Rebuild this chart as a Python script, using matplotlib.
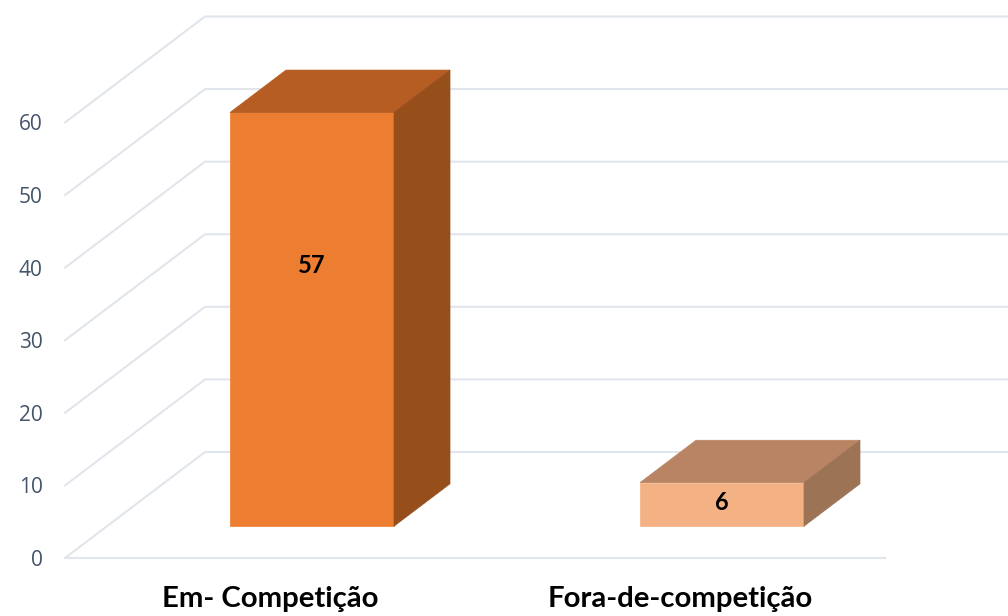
import matplotlib
matplotlib.use('Agg')
import matplotlib.pyplot as plt
from matplotlib.patches import Polygon

categories = ['Em- Competição', 'Fora-de-competição']
values = [57, 6]
y_ticks = [0, 10, 20, 30, 40, 50, 60]

front_colors = ['#ED7D31', '#F4B183']
top_colors = ['#B55D22', '#B98463']
side_colors = ['#964E1B', '#9C7355']
grid_color = '#E1E5EC'
tick_color = '#44546A'

W, H = 1008, 616
# front plane of the 3d box, in pixels
LEFT, RIGHT, BOTTOM, TOP = 65, 885, 558, 122.5

fig = plt.figure(figsize=(W / 100, H / 100), dpi=100)
ax = fig.add_axes([LEFT / W, 1 - BOTTOM / H, (RIGHT - LEFT) / W, (BOTTOM - TOP) / H])
ax.set_xlim(0, len(categories))
ax.set_ylim(0, 60)

# depth of the floor, in data units (140 px right, 106 px up)
units_x = len(categories) / (RIGHT - LEFT)
units_y = 60 / (BOTTOM - TOP)
DX = 140 * units_x
DY = 106 * units_y
BAR_W = 0.4
D0, D1 = 0.3, 0.7
# where the value label sits along the bar height
label_pos = [0.63, 0.54]


def proj(x, y, d):
    return (x + d * DX, y + d * DY)


# side wall and back wall gridlines
for t in y_ticks:
    pts = [proj(0, t, 0), proj(0, t, 1), proj(len(categories), t, 1)]
    ax.plot(*zip(*pts), color=grid_color, lw=1.5, clip_on=False, zorder=1,
            solid_joinstyle='miter')
# front edge of the floor
ax.plot([0, len(categories)], [0, 0], color=grid_color, lw=1.5, clip_on=False, zorder=1)

for i, (v, name) in enumerate(zip(values, categories)):
    x0 = i + 0.5 - BAR_W / 2
    x1 = i + 0.5 + BAR_W / 2
    front = [proj(x0, 0, D0), proj(x1, 0, D0), proj(x1, v, D0), proj(x0, v, D0)]
    top = [proj(x0, v, D0), proj(x1, v, D0), proj(x1, v, D1), proj(x0, v, D1)]
    side = [proj(x1, 0, D0), proj(x1, 0, D1), proj(x1, v, D1), proj(x1, v, D0)]
    ax.add_patch(Polygon(front, color=front_colors[i], lw=0.5, clip_on=False, zorder=3))
    ax.add_patch(Polygon(top, color=top_colors[i], lw=0.5, clip_on=False, zorder=3))
    ax.add_patch(Polygon(side, color=side_colors[i], lw=0.5, clip_on=False, zorder=3))
    lx, ly = proj(i + 0.5, v * label_pos[i], D0)
    ax.text(lx, ly, str(v), ha='center', va='center', fontsize=17, fontweight='bold',
            family='Lato', color='black', zorder=4)

ax.set_yticks(y_ticks)
ax.set_yticklabels([str(t) for t in y_ticks], family='Open Sans', fontsize=15, color=tick_color)
ax.tick_params(axis='y', length=0, pad=16)
ax.set_xticks([i + 0.5 for i in range(len(categories))])
ax.set_xticklabels(categories, family='Lato', fontweight='bold', fontsize=21.2, color='black')
ax.tick_params(axis='x', length=0, pad=20)
for s in ax.spines.values():
    s.set_visible(False)
ax.patch.set_visible(False)

fig.savefig('out.png', dpi=100, facecolor='white')
